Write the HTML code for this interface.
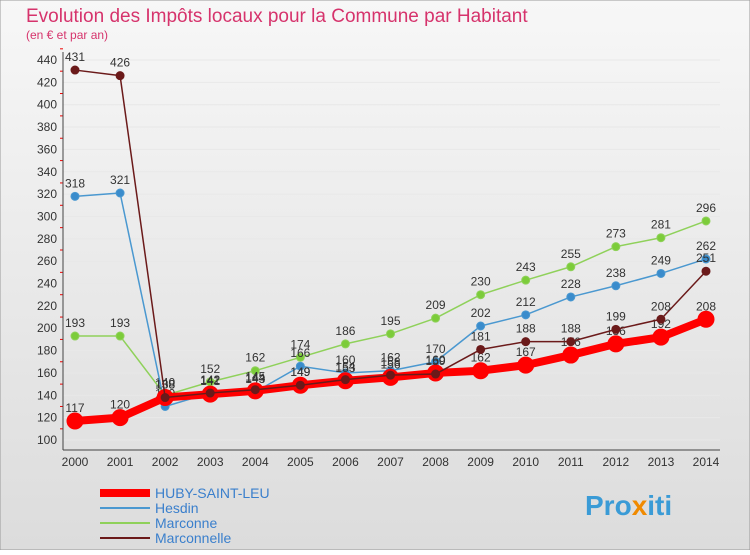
<!DOCTYPE html>
<html><head><meta charset="utf-8"><style>
body{margin:0;width:750px;height:550px;overflow:hidden;font-family:"Liberation Sans",sans-serif}
svg text{font-family:"Liberation Sans",sans-serif}
</style></head><body>
<svg id="c" width="750" height="550">
<defs><linearGradient id="bg" x1="0" y1="0" x2="0" y2="1"><stop offset="0" stop-color="#f7f7f7"/><stop offset="1" stop-color="#dcdcdc"/></linearGradient></defs>
<rect width="750" height="550" fill="url(#bg)" stroke="#999"/>
<text x="26" y="22" font-size="19" fill="#d6336c">Evolution des Impôts locaux pour la Commune par Habitant</text>
<text x="26" y="39" font-size="12" fill="#d6336c">(en € et par an)</text>
<g id="axes"></g><g id="series"></g><g id="legend"></g>
<text x="585" y="515" font-size="28" font-weight="bold" fill="#3a9bd6">Pro<tspan fill="#f08a00">x</tspan>iti</text>
</svg>
<script>
const years=[2000,2001,2002,2003,2004,2005,2006,2007,2008,2009,2010,2011,2012,2013,2014];
const yTicks=[100,120,140,160,180,200,220,240,260,280,300,320,340,360,380,400,420,440];
const huby=[117,120,138,141,144,149,153,156,160,162,167,176,186,192,208];
const hesdin=[318,321,130,142,143,166,160,162,170,202,212,228,238,249,262];
const marconne=[193,193,140,152,162,174,186,195,209,230,243,255,273,281,296];
const marconnelle=[431,426,138,142,145,149,154,158,159,181,188,188,199,208,251];
const NS="http://www.w3.org/2000/svg";
const X=i=>75+i*(706-75)/14;
const Y=v=>440-(v-100)*380/340;
function mk(t,a,p){const e=document.createElementNS(NS,t);for(const k in a)e.setAttribute(k,a[k]);p.appendChild(e);return e;}
const ax=document.getElementById('axes');
yTicks.forEach(t=>{
 const g=mk('line',{x1:63,x2:720,y1:Y(t),y2:Y(t),stroke:'#e8e8e8'},ax);
 
 
 const l=mk('text',{x:57,y:Y(t)+4,'text-anchor':'end','font-size':12,fill:'#333'},ax);
 l.textContent=t;
 
 
 const m=mk('line',{x1:60,x2:63,y1:Y(t+10),y2:Y(t+10),stroke:'#e00'},ax);
 
 
});
const ya=mk('line',{x1:63,x2:63,y1:52,y2:450,stroke:'#444'},ax);


const xa=mk('line',{x1:63,x2:720,y1:450,y2:450,stroke:'#444'},ax);


years.forEach((y,i)=>{
 const t=mk('text',{x:X(i),y:466,'text-anchor':'middle','font-size':12,fill:'#333'},ax);
 t.textContent=y;
 
 
});
const sg=document.getElementById('series');
function series(name,data,color,w,r,dot){
 const g=mk('g',{},sg);
 
 
 const p=mk('polyline',{points:data.map((v,i)=>X(i)+','+Y(v)).join(' '),fill:'none',stroke:color,'stroke-width':w,'stroke-linejoin':'round'},g);
 
 
 data.forEach((v,i)=>{
  const c=mk('circle',{cx:X(i),cy:Y(v),r:r,fill:dot,stroke:color,'stroke-width':1},g);
  
  
  const t=mk('text',{x:X(i),y:Y(v)-9,'text-anchor':'middle','font-size':12,fill:'#333'},g);
  t.textContent=v;
  
  
 });
}
series('marconne',marconne,'#8fd15a',1.5,4,'#7ccc3a');
series('hesdin',hesdin,'#4a98d0',1.5,4,'#3a8ccc');
series('huby-saint-leu',huby,'#f00',8,8,'#f00');
series('marconnelle',marconnelle,'#6b1a1a',1.5,4,'#6b1a1a');
const lg=document.getElementById('legend');
[['HUBY-SAINT-LEU','#f00',8],['Hesdin','#4a98d0',2],['Marconne','#8fd15a',2],['Marconnelle','#6b1a1a',2]].forEach((s,i)=>{
 const y=493+i*15;
 const l=mk('line',{x1:100,x2:150,y1:y,y2:y,stroke:s[1],'stroke-width':s[2]},lg);
 
 
 const t=mk('text',{x:155,y:y+5,'font-size':14,fill:'#3a7fcc'},lg);
 t.textContent=s[0];
 
 
});
</script>
</body></html>
